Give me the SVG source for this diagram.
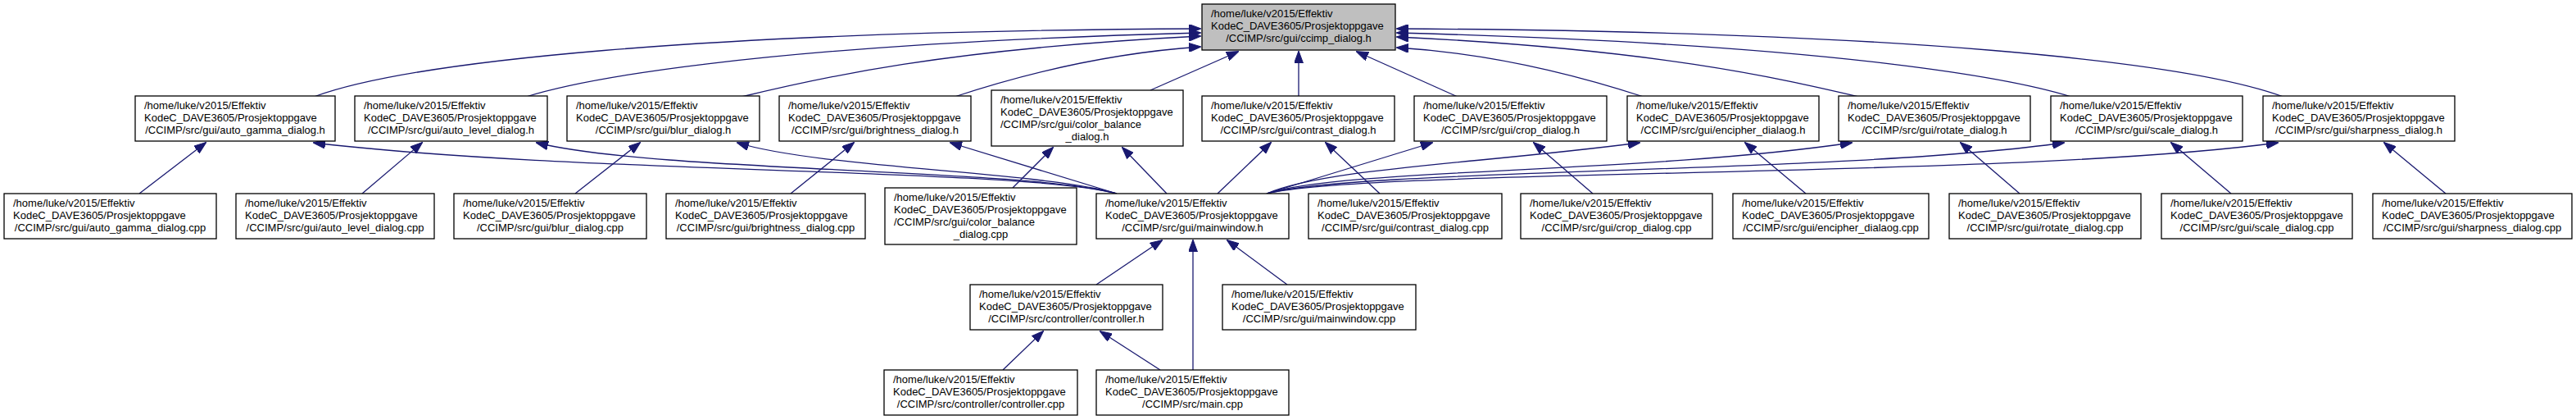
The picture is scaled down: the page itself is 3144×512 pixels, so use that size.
<svg xmlns="http://www.w3.org/2000/svg" width="3144" height="512" viewBox="0 0 3144 512">
<style>
.n rect{fill:#ffffff;stroke:#000000;stroke-width:1.3}
#n0 rect{fill:#bfbfbf}
text{font-family:"Liberation Sans",Arial,Helvetica,sans-serif;font-size:13px;fill:#000000}
.c{text-anchor:middle}
#edges path{fill:none;stroke:#191970;stroke-width:1.3;marker-end:url(#arr)}
</style>
<defs>
<marker id="arr" markerUnits="userSpaceOnUse" viewBox="0 0 15 11" markerWidth="15" markerHeight="11" refX="14" refY="5.5" orient="auto">
<path d="M0,0 L15,5.5 L0,11 z" fill="#191970" stroke="#191970" stroke-width="1"/>
</marker>
</defs>
<rect x="0" y="0" width="3144" height="512" fill="#ffffff"/>
<g id="edges">
<path d="M383,118 C500,75 850,38 1465,35"/>
<path d="M642,118 C700,100 900,55 1465,40"/>
<path d="M905,118 C1000,95 1150,60 1465,44"/>
<path d="M1165,118 C1250,90 1350,65 1465,57"/>
<path d="M1404,110 L1511,63"/>
<path d="M1585,118 L1585,63"/>
<path d="M1779,118 L1656,63"/>
<path d="M2006,118 C1920,90 1820,65 1705,58"/>
<path d="M2269,118 C2170,95 2020,60 1705,45"/>
<path d="M2528,118 C2470,100 2270,55 1705,40"/>
<path d="M2787,118 C2670,75 2320,38 1705,35"/>
<path d="M170,236 L251,174"/>
<path d="M442,236 L515,174"/>
<path d="M702,236 L781,174"/>
<path d="M965,236 L1042,174"/>
<path d="M1236,229 L1285,180"/>
<path d="M1684,236 L1618,174"/>
<path d="M1944,236 L1872,174"/>
<path d="M2204,236 L2130,174"/>
<path d="M2465,236 L2393,174"/>
<path d="M2723,236 L2650,174"/>
<path d="M2985,236 L2910,174"/>
<path d="M1363,236 C1250,205 700,212 383,174"/>
<path d="M1363,236 C1250,205 800,210 655,174"/>
<path d="M1363,236 C1280,210 1000,205 900,174"/>
<path d="M1363,236 L1160,174"/>
<path d="M1424,236 L1370,180"/>
<path d="M1486,236 L1551,174"/>
<path d="M1546,236 L1748,174"/>
<path d="M1546,236 C1620,205 1800,200 2001,174"/>
<path d="M1546,236 C1640,205 2000,212 2260,174"/>
<path d="M1546,236 C1660,205 2250,212 2519,174"/>
<path d="M1546,236 C1680,205 2450,218 2780,174"/>
<path d="M1338,347 L1418,293"/>
<path d="M1456,451 L1456,293"/>
<path d="M1571,347 L1498,293"/>
<path d="M1224,451 L1273,404"/>
<path d="M1416,451 L1343,404"/>
</g>
<g id="n0" class="n"><rect x="1467" y="5" width="236" height="56"/><text x="1478" y="21">/home/luke/v2015/Effektiv</text><text x="1478" y="36">KodeC_DAVE3605/Prosjektoppgave</text><text class="c" x="1585" y="51">/CCIMP/src/gui/ccimp_dialog.h</text></g>
<g id="h1" class="n"><rect x="165" y="117" width="244" height="55"/><text x="176" y="133">/home/luke/v2015/Effektiv</text><text x="176" y="148">KodeC_DAVE3605/Prosjektoppgave</text><text class="c" x="287" y="163">/CCIMP/src/gui/auto_gamma_dialog.h</text></g>
<g id="h2" class="n"><rect x="433" y="117" width="235" height="55"/><text x="444" y="133">/home/luke/v2015/Effektiv</text><text x="444" y="148">KodeC_DAVE3605/Prosjektoppgave</text><text class="c" x="550.5" y="163">/CCIMP/src/gui/auto_level_dialog.h</text></g>
<g id="h3" class="n"><rect x="692" y="117" width="235" height="55"/><text x="703" y="133">/home/luke/v2015/Effektiv</text><text x="703" y="148">KodeC_DAVE3605/Prosjektoppgave</text><text class="c" x="809.5" y="163">/CCIMP/src/gui/blur_dialog.h</text></g>
<g id="h4" class="n"><rect x="951" y="117" width="234" height="55"/><text x="962" y="133">/home/luke/v2015/Effektiv</text><text x="962" y="148">KodeC_DAVE3605/Prosjektoppgave</text><text class="c" x="1068" y="163">/CCIMP/src/gui/brightness_dialog.h</text></g>
<g id="h5" class="n"><rect x="1210" y="110" width="234" height="68"/><text x="1221" y="126">/home/luke/v2015/Effektiv</text><text x="1221" y="141">KodeC_DAVE3605/Prosjektoppgave</text><text x="1221" y="156">/CCIMP/src/gui/color_balance</text><text class="c" x="1327" y="171">_dialog.h</text></g>
<g id="h6" class="n"><rect x="1467" y="117" width="235" height="55"/><text x="1478" y="133">/home/luke/v2015/Effektiv</text><text x="1478" y="148">KodeC_DAVE3605/Prosjektoppgave</text><text class="c" x="1584.5" y="163">/CCIMP/src/gui/contrast_dialog.h</text></g>
<g id="h7" class="n"><rect x="1726" y="117" width="235" height="55"/><text x="1737" y="133">/home/luke/v2015/Effektiv</text><text x="1737" y="148">KodeC_DAVE3605/Prosjektoppgave</text><text class="c" x="1843.5" y="163">/CCIMP/src/gui/crop_dialog.h</text></g>
<g id="h8" class="n"><rect x="1986" y="117" width="234" height="55"/><text x="1997" y="133">/home/luke/v2015/Effektiv</text><text x="1997" y="148">KodeC_DAVE3605/Prosjektoppgave</text><text class="c" x="2103" y="163">/CCIMP/src/gui/encipher_dialaog.h</text></g>
<g id="h9" class="n"><rect x="2244" y="117" width="234" height="55"/><text x="2255" y="133">/home/luke/v2015/Effektiv</text><text x="2255" y="148">KodeC_DAVE3605/Prosjektoppgave</text><text class="c" x="2361" y="163">/CCIMP/src/gui/rotate_dialog.h</text></g>
<g id="h10" class="n"><rect x="2503" y="117" width="234" height="55"/><text x="2514" y="133">/home/luke/v2015/Effektiv</text><text x="2514" y="148">KodeC_DAVE3605/Prosjektoppgave</text><text class="c" x="2620" y="163">/CCIMP/src/gui/scale_dialog.h</text></g>
<g id="h11" class="n"><rect x="2762" y="117" width="234" height="55"/><text x="2773" y="133">/home/luke/v2015/Effektiv</text><text x="2773" y="148">KodeC_DAVE3605/Prosjektoppgave</text><text class="c" x="2879" y="163">/CCIMP/src/gui/sharpness_dialog.h</text></g>
<g id="c1" class="n"><rect x="5" y="236" width="259" height="55"/><text x="16" y="252">/home/luke/v2015/Effektiv</text><text x="16" y="267">KodeC_DAVE3605/Prosjektoppgave</text><text class="c" x="134.5" y="282">/CCIMP/src/gui/auto_gamma_dialog.cpp</text></g>
<g id="c2" class="n"><rect x="288" y="236" width="242" height="55"/><text x="299" y="252">/home/luke/v2015/Effektiv</text><text x="299" y="267">KodeC_DAVE3605/Prosjektoppgave</text><text class="c" x="409" y="282">/CCIMP/src/gui/auto_level_dialog.cpp</text></g>
<g id="c3" class="n"><rect x="554" y="236" width="235" height="55"/><text x="565" y="252">/home/luke/v2015/Effektiv</text><text x="565" y="267">KodeC_DAVE3605/Prosjektoppgave</text><text class="c" x="671.5" y="282">/CCIMP/src/gui/blur_dialog.cpp</text></g>
<g id="c4" class="n"><rect x="813" y="236" width="243" height="55"/><text x="824" y="252">/home/luke/v2015/Effektiv</text><text x="824" y="267">KodeC_DAVE3605/Prosjektoppgave</text><text class="c" x="934.5" y="282">/CCIMP/src/gui/brightness_dialog.cpp</text></g>
<g id="c5" class="n"><rect x="1080" y="229" width="234" height="69"/><text x="1091" y="245">/home/luke/v2015/Effektiv</text><text x="1091" y="260">KodeC_DAVE3605/Prosjektoppgave</text><text x="1091" y="275">/CCIMP/src/gui/color_balance</text><text class="c" x="1197" y="290">_dialog.cpp</text></g>
<g id="mw" class="n"><rect x="1338" y="236" width="235" height="55"/><text x="1349" y="252">/home/luke/v2015/Effektiv</text><text x="1349" y="267">KodeC_DAVE3605/Prosjektoppgave</text><text class="c" x="1455.5" y="282">/CCIMP/src/gui/mainwindow.h</text></g>
<g id="c6" class="n"><rect x="1597" y="236" width="236" height="55"/><text x="1608" y="252">/home/luke/v2015/Effektiv</text><text x="1608" y="267">KodeC_DAVE3605/Prosjektoppgave</text><text class="c" x="1715" y="282">/CCIMP/src/gui/contrast_dialog.cpp</text></g>
<g id="c7" class="n"><rect x="1856" y="236" width="234" height="55"/><text x="1867" y="252">/home/luke/v2015/Effektiv</text><text x="1867" y="267">KodeC_DAVE3605/Prosjektoppgave</text><text class="c" x="1973" y="282">/CCIMP/src/gui/crop_dialog.cpp</text></g>
<g id="c8" class="n"><rect x="2115" y="236" width="239" height="55"/><text x="2126" y="252">/home/luke/v2015/Effektiv</text><text x="2126" y="267">KodeC_DAVE3605/Prosjektoppgave</text><text class="c" x="2234.5" y="282">/CCIMP/src/gui/encipher_dialaog.cpp</text></g>
<g id="c9" class="n"><rect x="2379" y="236" width="234" height="55"/><text x="2390" y="252">/home/luke/v2015/Effektiv</text><text x="2390" y="267">KodeC_DAVE3605/Prosjektoppgave</text><text class="c" x="2496" y="282">/CCIMP/src/gui/rotate_dialog.cpp</text></g>
<g id="c10" class="n"><rect x="2638" y="236" width="233" height="55"/><text x="2649" y="252">/home/luke/v2015/Effektiv</text><text x="2649" y="267">KodeC_DAVE3605/Prosjektoppgave</text><text class="c" x="2754.5" y="282">/CCIMP/src/gui/scale_dialog.cpp</text></g>
<g id="c11" class="n"><rect x="2896" y="236" width="243" height="55"/><text x="2907" y="252">/home/luke/v2015/Effektiv</text><text x="2907" y="267">KodeC_DAVE3605/Prosjektoppgave</text><text class="c" x="3017.5" y="282">/CCIMP/src/gui/sharpness_dialog.cpp</text></g>
<g id="ctrlh" class="n"><rect x="1184" y="347" width="235" height="55"/><text x="1195" y="363">/home/luke/v2015/Effektiv</text><text x="1195" y="378">KodeC_DAVE3605/Prosjektoppgave</text><text class="c" x="1301.5" y="393">/CCIMP/src/controller/controller.h</text></g>
<g id="mwcpp" class="n"><rect x="1492" y="347" width="236" height="55"/><text x="1503" y="363">/home/luke/v2015/Effektiv</text><text x="1503" y="378">KodeC_DAVE3605/Prosjektoppgave</text><text class="c" x="1610" y="393">/CCIMP/src/gui/mainwindow.cpp</text></g>
<g id="ctrlcpp" class="n"><rect x="1079" y="451" width="236" height="55"/><text x="1090" y="467">/home/luke/v2015/Effektiv</text><text x="1090" y="482">KodeC_DAVE3605/Prosjektoppgave</text><text class="c" x="1197" y="497">/CCIMP/src/controller/controller.cpp</text></g>
<g id="maincpp" class="n"><rect x="1338" y="451" width="235" height="55"/><text x="1349" y="467">/home/luke/v2015/Effektiv</text><text x="1349" y="482">KodeC_DAVE3605/Prosjektoppgave</text><text class="c" x="1455.5" y="497">/CCIMP/src/main.cpp</text></g>
</svg>
